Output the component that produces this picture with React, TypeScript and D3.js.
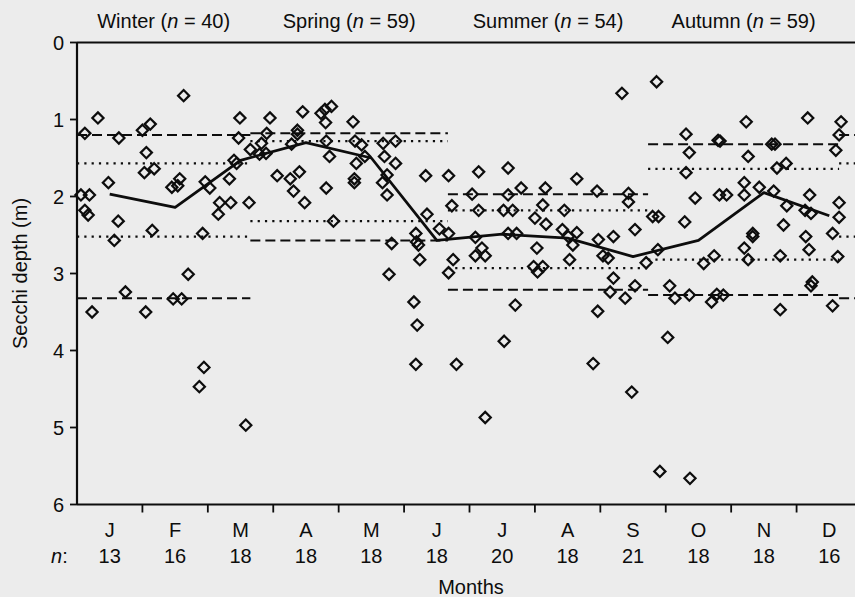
import React from "react";
import * as d3 from "d3";

// ---- data ----
const monthLabels = ["J", "F", "M", "A", "M", "J", "J", "A", "S", "O", "N", "D"];
const monthN = [13, 16, 18, 18, 18, 18, 20, 18, 21, 18, 18, 16];
const yTicks = [0, 1, 2, 3, 4, 5, 6];

const seasonNames = ["Winter", "Spring", "Summer", "Autumn"];
const seasonN = [40, 59, 54, 59];
const seasonStart = [0, 2.65, 5.67, 8.73];
const seasonEnd = [2.65, 5.67, 8.73, 11.65];
const winterWrap = [11.65, 12];

const dashedUpper = [1.2, 1.18, 1.97, 1.32];
const dottedUpper = [1.57, 1.28, 2.18, 1.64];
const dottedLower = [2.52, 2.32, 2.93, 2.82];
const dashedLower = [3.32, 2.57, 3.21, 3.28];

const monthlyMean = [1.97, 2.14, 1.53, 1.3, 1.5, 2.57, 2.49, 2.54, 2.78, 2.57, 1.95, 2.25];

// samples: [month position, Secchi depth (m)]
const janSamples = [[0.32, 0.98], [0.12, 1.18], [0.64, 1.24], [0.48, 1.82], [0.06, 1.98], [0.19, 1.98], [0.12, 2.18], [0.17, 2.24], [0.63, 2.32], [0.57, 2.57], [0.23, 3.5], [0.74, 3.24]];
const febSamples = [[1.0, 1.14], [1.12, 1.06], [1.06, 1.43], [1.03, 1.69], [1.18, 1.64], [1.15, 2.44], [1.45, 1.88], [1.54, 1.86], [1.57, 1.77], [1.63, 0.69], [1.7, 3.01], [1.05, 3.5], [1.47, 3.33], [1.6, 3.33], [1.94, 4.22], [1.87, 4.47], [1.92, 2.48], [1.96, 1.81]];
const marSamples = [[2.03, 1.89], [2.18, 2.08], [2.16, 2.23], [2.35, 2.08], [2.33, 1.77], [2.49, 0.98], [2.47, 1.24], [2.4, 1.53], [2.44, 1.57], [2.63, 2.08], [2.65, 1.39], [2.82, 1.31], [2.79, 1.45], [2.89, 1.44], [2.9, 1.18], [2.95, 0.98], [2.58, 4.97]];
const aprSamples = [[3.45, 0.9], [3.28, 1.32], [3.37, 1.14], [3.37, 1.19], [3.06, 1.73], [3.26, 1.77], [3.4, 1.68], [3.31, 1.93], [3.48, 2.08], [3.81, 1.89], [3.73, 0.92], [3.79, 0.87], [3.89, 0.83], [3.8, 1.04], [3.81, 1.28], [3.86, 1.48], [3.92, 2.32]];
const maySamples = [[4.22, 1.03], [4.25, 1.28], [4.35, 1.33], [4.4, 1.48], [4.27, 1.57], [4.24, 1.77], [4.24, 1.82], [4.68, 1.31], [4.87, 1.28], [4.7, 1.48], [4.87, 1.57], [4.74, 1.72], [4.67, 1.82], [4.74, 1.98], [4.81, 2.61], [4.77, 3.01]];
const junSamples = [[5.33, 1.73], [5.35, 2.23], [5.18, 2.48], [5.19, 2.59], [5.22, 2.63], [5.24, 2.82], [5.15, 3.37], [5.2, 3.67], [5.18, 4.18], [5.54, 2.42], [5.68, 2.99], [5.75, 2.82], [5.8, 4.18], [5.68, 1.73], [5.73, 2.12], [5.68, 2.48]];
const julSamples = [[6.14, 1.68], [6.59, 1.63], [6.04, 1.97], [6.14, 2.18], [6.59, 1.98], [6.52, 2.18], [6.66, 2.18], [6.79, 1.89], [6.09, 2.53], [6.59, 2.48], [6.72, 2.48], [6.19, 2.67], [6.09, 2.77], [6.24, 2.77], [6.7, 3.41], [6.53, 3.88], [6.24, 4.87]];
const augSamples = [[7.16, 1.89], [7.12, 2.11], [7.0, 2.28], [7.17, 2.36], [7.03, 2.67], [6.98, 2.91], [7.04, 2.98], [7.12, 2.91], [7.45, 2.18], [7.42, 2.43], [7.64, 2.47], [7.51, 2.52], [7.58, 2.63], [7.53, 2.82], [7.64, 1.77], [7.95, 1.93], [7.97, 2.56], [7.96, 3.49], [7.89, 4.17]];
const sepSamples = [[8.2, 2.52], [8.04, 2.77], [8.12, 2.8], [8.43, 1.96], [8.43, 2.07], [8.53, 2.43], [8.2, 3.06], [8.15, 3.24], [8.38, 3.32], [8.53, 3.16], [8.48, 4.54], [8.33, 0.66], [8.86, 0.51], [8.8, 2.26], [8.89, 2.26], [8.7, 2.86], [8.88, 2.69], [8.91, 5.57]];
const octSamples = [[9.31, 1.19], [9.8, 1.27], [9.83, 1.28], [9.36, 1.43], [9.31, 1.69], [9.45, 2.02], [9.29, 2.33], [9.03, 3.83], [9.06, 3.16], [9.14, 3.32], [9.36, 3.28], [9.58, 2.87], [9.74, 2.77], [9.7, 3.37], [9.78, 3.27], [9.88, 3.28], [9.82, 1.98], [9.93, 1.98], [9.37, 5.66]];
const novSamples = [[10.23, 1.03], [10.26, 1.48], [10.67, 1.32], [10.62, 1.32], [10.7, 1.63], [10.84, 1.57], [11.17, 0.98], [10.2, 1.82], [10.2, 1.98], [10.43, 1.88], [10.65, 1.93], [10.85, 2.12], [10.33, 2.48], [10.33, 2.52], [10.8, 2.37], [10.2, 2.67], [10.26, 2.82], [10.75, 2.77], [10.75, 3.47]];
const decSamples = [[11.68, 1.03], [11.65, 1.2], [11.6, 1.4], [11.2, 1.98], [11.13, 2.18], [11.22, 2.22], [11.65, 2.08], [11.65, 2.27], [11.14, 2.52], [11.55, 2.48], [11.19, 2.69], [11.63, 2.78], [11.24, 3.11], [11.22, 3.16], [11.55, 3.42]];

const allSamples = [
  ...janSamples, ...febSamples, ...marSamples, ...aprSamples, ...maySamples, ...junSamples,
  ...julSamples, ...augSamples, ...sepSamples, ...octSamples, ...novSamples, ...decSamples,
];

// ---- layout ----
const W = 855;
const H = 597;
const BG = "#ececec";
const INK = "#0d0d0d";
const FONT = "'Liberation Sans', Arial, Helvetica, sans-serif";
const FS = 20;

export default function App() {
  const x = d3.scaleLinear().domain([0, 12]).range([77, 862]);
  const y = d3.scaleLinear().domain([0, 6]).range([42.5, 504.5]);
  const x0 = x(0);
  const yTop = y(0);
  const yBot = y(6);

  const meanLine = d3
    .line<number>()
    .x((_, i) => x(i + 0.5))
    .y((d) => y(d));

  const r = 5.6;
  const diamond = `M0,${-r}L${r},0L0,${r}L${-r},0Z`;

  const seasonSegs: { a: number; b: number; i: number }[] = seasonNames.map((_, i) => ({
    a: seasonStart[i],
    b: seasonEnd[i],
    i,
  }));
  seasonSegs.push({ a: winterWrap[0], b: winterWrap[1], i: 0 });

  const hline = (a: number, b: number, v: number, kind: "dash" | "dot", key: string) => (
    <line
      key={key}
      x1={x(a)}
      x2={x(b)}
      y1={y(v)}
      y2={y(v)}
      stroke={INK}
      strokeWidth={kind === "dash" ? 2 : 2.2}
      strokeDasharray={kind === "dash" ? "10,5" : "2.2,5.1"}
    />
  );

  return (
    <svg
      width={W}
      height={H}
      viewBox={`0 0 ${W} ${H}`}
      style={{ position: "absolute", left: 0, top: 0, fontFamily: FONT }}
    >
      <rect x={0} y={0} width={W} height={H} fill={BG} />

      {/* season labels */}
      {seasonNames.map((s, i) => (
        <text
          key={s}
          x={x((seasonStart[i] + seasonEnd[i]) / 2)}
          y={28}
          textAnchor="middle"
          fontSize={FS}
          fill={INK}
        >
          {s} (<tspan fontStyle="italic">n</tspan> = {seasonN[i]})
        </text>
      ))}

      {/* seasonal reference lines */}
      {seasonSegs.map((sg, k) => (
        <g key={"seg" + k}>
          {hline(sg.a, sg.b, dashedUpper[sg.i], "dash", "du" + k)}
          {hline(sg.a, sg.b, dottedUpper[sg.i], "dot", "pu" + k)}
          {hline(sg.a, sg.b, dottedLower[sg.i], "dot", "pl" + k)}
          {hline(sg.a, sg.b, dashedLower[sg.i], "dash", "dl" + k)}
        </g>
      ))}

      {/* monthly mean */}
      <path d={meanLine(monthlyMean) || ""} fill="none" stroke={INK} strokeWidth={2.8} strokeLinejoin="round" />

      {/* samples */}
      {allSamples.map((p, i) => (
        <path
          key={"p" + i}
          d={diamond}
          transform={`translate(${x(p[0])},${y(p[1])})`}
          fill="none"
          stroke={INK}
          strokeWidth={2.2}
        />
      ))}

      {/* axes */}
      <line x1={x0} x2={x(12)} y1={yTop} y2={yTop} stroke={INK} strokeWidth={2.2} />
      <line x1={x0} x2={x(12)} y1={yBot} y2={yBot} stroke={INK} strokeWidth={2.2} />
      <line x1={x0} x2={x0} y1={yTop} y2={yBot} stroke={INK} strokeWidth={2.2} />

      {yTicks.map((t) => (
        <g key={"yt" + t}>
          <line x1={x0 - 7} x2={x0} y1={y(t)} y2={y(t)} stroke={INK} strokeWidth={1.8} />
          <text x={x0 - 13} y={y(t) + 7} textAnchor="end" fontSize={FS} fill={INK}>
            {t}
          </text>
        </g>
      ))}

      {d3.range(1, 13).map((m) => (
        <line key={"xt" + m} x1={x(m)} x2={x(m)} y1={yBot} y2={yBot + 8} stroke={INK} strokeWidth={1.8} />
      ))}

      {monthLabels.map((m, i) => (
        <g key={"ml" + i}>
          <text x={x(i + 0.5)} y={537} textAnchor="middle" fontSize={FS} fill={INK}>
            {m}
          </text>
          <text x={x(i + 0.5)} y={563} textAnchor="middle" fontSize={FS} fill={INK}>
            {monthN[i]}
          </text>
        </g>
      ))}
      <text x={51} y={563} fontSize={FS} fill={INK}>
        <tspan fontStyle="italic">n</tspan>:
      </text>

      <text x={471} y={594} textAnchor="middle" fontSize={FS} fill={INK}>
        Months
      </text>

      <text
        transform={`translate(27,${(yTop + yBot) / 2}) rotate(-90)`}
        textAnchor="middle"
        fontSize={FS}
        fill={INK}
      >
        Secchi depth (m)
      </text>
    </svg>
  );
}
